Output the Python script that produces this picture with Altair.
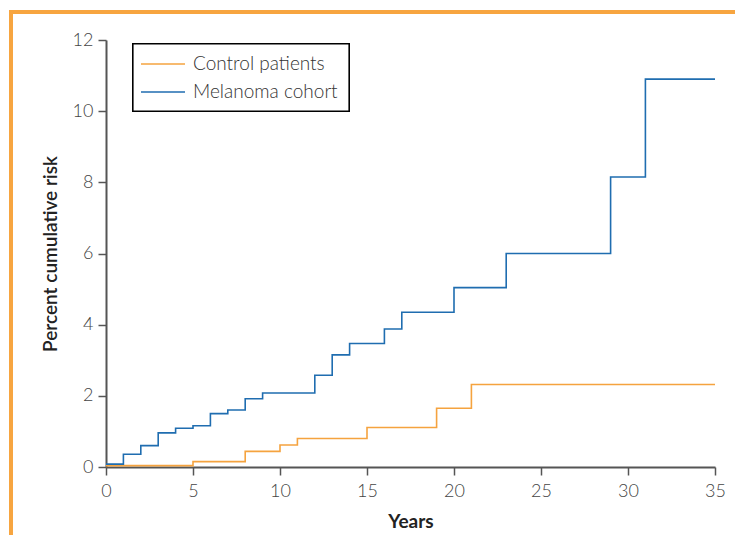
import altair as alt
import pandas as pd

# Data
years_control = [0, 5, 8, 10, 11, 15, 19, 21, 35]
risk_control = [0.04, 0.15, 0.44, 0.62, 0.80, 1.11, 1.65, 2.32, 2.32]

years_melanoma = [0, 1, 2, 3, 4, 5, 6, 7, 8, 9, 12, 13, 14, 16, 17, 20, 23, 29, 31, 35]
risk_melanoma = [0.08, 0.36, 0.60, 0.96, 1.09, 1.16, 1.50, 1.60, 1.92, 2.08, 2.58,
                 3.15, 3.47, 3.88, 4.35, 5.04, 6.00, 8.15, 10.90, 10.90]

series_names = ["Control patients", "Melanoma cohort"]
series_colors = ["#F5A33F", "#1F6DB0"]
x_ticks = [0, 5, 10, 15, 20, 25, 30, 35]
y_ticks = [0, 2, 4, 6, 8, 10, 12]

df = pd.concat([
    pd.DataFrame({"Years": years_control, "Risk": risk_control, "Group": series_names[0]}),
    pd.DataFrame({"Years": years_melanoma, "Risk": risk_melanoma, "Group": series_names[1]}),
])

FONT = "Lato"
W, H = 609, 427

lines = alt.Chart(df).mark_line(interpolate="step-after", strokeWidth=1.6).encode(
    x=alt.X("Years:Q", title="Years",
            scale=alt.Scale(domain=[0, 35], nice=False, zero=True),
            axis=alt.Axis(values=x_ticks, format="d", titlePadding=12, labelPadding=7)),
    y=alt.Y("Risk:Q", title="Percent cumulative risk",
            scale=alt.Scale(domain=[0, 12], nice=False),
            axis=alt.Axis(values=y_ticks, format="d", titlePadding=12, labelPadding=5)),
    color=alt.Color("Group:N",
                    scale=alt.Scale(domain=series_names, range=series_colors),
                    legend=None),
)

# Legend box drawn as decoration (layout only), labels from the series lists
legend_box = alt.Chart(df).mark_rect(fill="white", stroke="black", strokeWidth=1.2).encode(
    x=alt.value(27), x2=alt.value(243), y=alt.value(4), y2=alt.value(71))

legend_layers = []
for i, (name, col) in enumerate(zip(series_names, series_colors)):
    ly = 24 + 28 * i
    ldf = pd.DataFrame({"name": [name]})
    legend_layers.append(alt.Chart(ldf).mark_rule(color=col, strokeWidth=1.6).encode(
        x=alt.value(35), x2=alt.value(79), y=alt.value(ly)))
    legend_layers.append(alt.Chart(ldf).mark_text(
        align="left", baseline="middle", font=FONT, fontSize=19, fontWeight=300,
        color="#333").encode(text="name:N", x=alt.value(87), y=alt.value(ly)))

frame_top = alt.Chart(df).mark_rule(color="#F7A540", strokeWidth=4).encode(
    x=alt.value(-95), x2=alt.value(W + 40), y=alt.value(-28))
frame_left = alt.Chart(df).mark_rule(color="#F7A540", strokeWidth=4).encode(
    x=alt.value(-95), y=alt.value(-30), y2=alt.value(H + 80))

chart = alt.layer(frame_top, frame_left, lines, legend_box, *legend_layers).properties(
    width=W, height=H,
    autosize=alt.AutoSizeParams(type="none"),
    padding={"left": 98, "top": 32, "right": 20, "bottom": 68},
).configure_view(stroke=None).configure_axis(
    domainColor="#555", domainWidth=2, tickColor="#555", tickWidth=1.5,
    tickSize=8, grid=False, labelFlush=False,
    labelFont=FONT, labelFontSize=18, labelFontWeight=300, labelColor="#444",
    titleFont=FONT, titleFontSize=19, titleColor="#222",
).configure_axisX(titleFontWeight="bold").configure_axisY(titleFontWeight=600)

chart.save("out.html", embed_options={"renderer": "svg", "actions": False})
